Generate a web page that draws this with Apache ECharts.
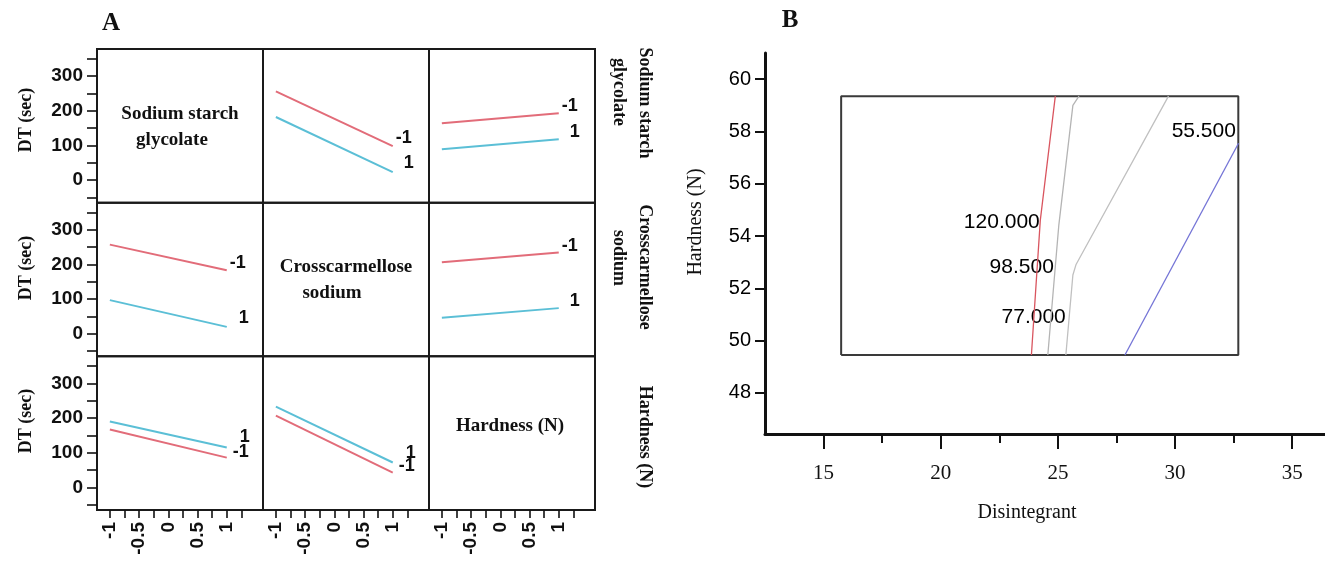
<!DOCTYPE html>
<html>
<head>
<meta charset="utf-8">
<script src="https://cdn.jsdelivr.net/npm/echarts@6/dist/echarts.min.js"></script>
<style>html,body{margin:0;padding:0;background:#fff}#c{width:1325px;height:562px}</style>
</head>
<body>
<div id="c"></div>
<script>
// ---------- DATA ----------
// Panel A: interaction plot matrix (DT in sec). Row = trace factor, column = x factor.
const factorNames = ['Sodium starch glycolate', 'Crosscarmellose sodium', 'Hardness (N)'];
const xLevels = [-1, 1];
const levelLabels = ['-1', '1'];
// [value at x=-1, value at x=1] for trace level -1 (low) and +1 (high)
const r0c1_low = [256, 98],  r0c1_high = [182, 23];
const r0c2_low = [164, 193], r0c2_high = [89, 118];
const r1c0_low = [257, 183], r1c0_high = [97, 20];
const r1c2_low = [206, 234], r1c2_high = [46, 74];
const r2c0_low = [167, 86],  r2c0_high = [190, 115];
const r2c1_low = [207, 43],  r2c1_high = [233, 72];
const yTickLabelsA = [0, 100, 200, 300];
const yTicksA = [-50, 0, 50, 100, 150, 200, 250, 300, 350];
const xTickLabelsA = [-1, -0.5, 0, 0.5, 1];
const xTicksA = [-1, -0.75, -0.5, -0.25, 0, 0.25, 0.5, 0.75, 1, 1.25];

// Panel B: contour plot (Disintegrant vs Hardness)
const contourLevels = ['120.000', '98.500', '77.000', '55.500'];
const c120_x = [24.89, 24.25, 23.87];        const c120_y = [59.35, 54.61, 49.45];
const c985_x = [25.90, 25.64, 25.04, 24.57]; const c985_y = [59.35, 59.00, 54.42, 49.45];
const c770_x = [29.72, 25.77, 25.64, 25.34]; const c770_y = [59.35, 52.90, 52.51, 49.45];
const c555_x = [32.71, 27.86];               const c555_y = [57.55, 49.45];
const contourLabelX = [24.27, 24.87, 25.38, 32.64];
const contourLabelY = [54.54, 52.82, 50.90, 58.01];
const frameX = [15.75, 32.70];
const frameY = [49.45, 59.35];
const xTickLabelsB = [15, 20, 25, 30, 35];
const xMinorTicksB = [17.5, 22.5, 27.5, 32.5];
const yTickLabelsB = [48, 50, 52, 54, 56, 58, 60];

// ---------- STYLE / LAYOUT ----------
const RED = '#e26c79', BLUE = '#5bbfd6';
const AX0 = 97, AY0 = 49, CW = 166, RH = 153.67;
const SERIF = '"Liberation Serif","Times New Roman",serif';
const SANS = 'Arial,"Liberation Sans",sans-serif';

const cells = {
  '0,1': [r0c1_low, r0c1_high], '0,2': [r0c2_low, r0c2_high],
  '1,0': [r1c0_low, r1c0_high], '1,2': [r1c2_low, r1c2_high],
  '2,0': [r2c0_low, r2c0_high], '2,1': [r2c1_low, r2c1_high]
};
// end label offsets [low, high]
const labelOffsets = {
  '0,1': [[0, -8], [8, -9]], '0,2': [[0, -7], [8, -7]],
  '1,0': [[0, -7], [9, -9]], '1,2': [[0, -7], [8, -7]],
  '2,0': [[3, -6], [10, -11]], '2,1': [[3, -7], [10, -9]]
};

const grid = [], xAxis = [], yAxis = [], series = [];
for (let r = 0; r < 3; r++) {
  for (let c = 0; c < 3; c++) {
    const i = r * 3 + c;
    grid.push({left: AX0 + c * CW, top: AY0 + r * RH, width: CW, height: RH,
      show: true, borderColor: '#1a1a1a', borderWidth: 2, backgroundColor: 'transparent'});
    xAxis.push({gridIndex: i, type: 'value', min: -1.22, max: 1.62, show: r === 2, position: 'bottom',
      axisLine: {show: false, onZero: false}, splitLine: {show: false},
      axisTick: {show: true, inside: false, length: 8, customValues: xTicksA, lineStyle: {color: '#111', width: 1.6}},
      axisLabel: {show: true, customValues: xTickLabelsA, rotate: 90, margin: 12, color: '#111',
        fontSize: 19, fontWeight: 'bold', fontFamily: SANS}});
    yAxis.push({gridIndex: i, type: 'value', min: -65, max: 378, show: c === 0, position: 'left',
      axisLine: {show: false, onZero: false}, splitLine: {show: false},
      axisTick: {show: true, inside: false, length: 10, customValues: yTicksA, lineStyle: {color: '#111', width: 1.6}},
      axisLabel: {show: true, customValues: yTickLabelsA, margin: 14, color: '#111',
        fontSize: 19, fontWeight: 'bold', fontFamily: SANS}});
    const key = r + ',' + c;
    if (cells[key]) {
      const vals = cells[key];
      [0, 1].forEach(k => {
        series.push({type: 'line', xAxisIndex: i, yAxisIndex: i, silent: true, animation: false,
          symbol: 'none', showSymbol: false,
          data: xLevels.map((x, j) => [x, vals[k][j]]),
          lineStyle: {color: k === 0 ? RED : BLUE, width: 2},
          endLabel: {show: true, formatter: levelLabels[k], distance: 3, offset: labelOffsets[key][k],
            color: '#111', fontSize: 18, fontWeight: 'bold', fontFamily: SANS}
        });
      });
    }
  }
}

// Panel B grid
const BG = 9;
grid.push({left: 765, top: 53, width: 560, height: 381, show: false});
xAxis.push({gridIndex: BG, type: 'value', min: 12.5, max: 36.4, position: 'bottom',
  axisLine: {show: true, onZero: false, lineStyle: {color: '#111', width: 3}}, splitLine: {show: false},
  axisTick: {show: true, inside: false, length: 15, customValues: xTickLabelsB, lineStyle: {color: '#111', width: 2}},
  axisLabel: {customValues: xTickLabelsB, margin: 29, color: '#111', fontSize: 21, fontFamily: SERIF}});
xAxis.push({gridIndex: BG, type: 'value', min: 12.5, max: 36.4, position: 'bottom',
  axisLine: {show: false, onZero: false}, splitLine: {show: false},
  axisTick: {show: true, inside: false, length: 9, customValues: xMinorTicksB, lineStyle: {color: '#111', width: 2}},
  axisLabel: {show: false}});
yAxis.push({gridIndex: BG, type: 'value', min: 46.43, max: 61.0, position: 'left',
  axisLine: {show: true, onZero: false, lineStyle: {color: '#111', width: 3}}, splitLine: {show: false},
  axisTick: {show: true, inside: false, length: 10, customValues: yTickLabelsB, lineStyle: {color: '#111', width: 2}},
  axisLabel: {customValues: yTickLabelsB, margin: 14, color: '#000', fontSize: 20, fontFamily: SANS}});

const zip = (xs, ys) => xs.map((x, i) => [x, ys[i]]);
const frameData = [[frameX[0], frameY[0]], [frameX[1], frameY[0]], [frameX[1], frameY[1]], [frameX[0], frameY[1]], [frameX[0], frameY[0]]];
series.push({type: 'line', xAxisIndex: 9, yAxisIndex: BG, symbol: 'none', silent: true, animation: false,
  data: frameData, lineStyle: {color: '#3a3a3a', width: 2}});
const contours = [[c120_x, c120_y, '#d9555f'], [c985_x, c985_y, '#b4b4b4'], [c770_x, c770_y, '#c0c0c0'], [c555_x, c555_y, '#7474d6']];
contours.forEach(([xs, ys, col]) => {
  series.push({type: 'line', xAxisIndex: 9, yAxisIndex: BG, symbol: 'none', silent: true, animation: false,
    data: zip(xs, ys), lineStyle: {color: col, width: 1.3}});
});
series.push({type: 'scatter', xAxisIndex: 9, yAxisIndex: BG, symbolSize: 0, silent: true, animation: false,
  itemStyle: {opacity: 1},
  data: contourLevels.map((t, i) => ({value: [contourLabelX[i], contourLabelY[i]], name: t})),
  label: {show: true, position: 'left', distance: 1, formatter: p => p.name, color: '#000', opacity: 1,
    fontSize: 21, fontFamily: SANS}});

// Text graphics
const txt = (x, y, text, opt) => Object.assign({type: 'text', x: x, y: y, silent: true,
  style: Object.assign({text: text, fill: '#111', align: 'center', verticalAlign: 'middle'}, opt.style || {})},
  opt.rotation !== undefined ? {rotation: opt.rotation} : {});
const boldSerif = s => ({font: 'bold ' + s + 'px ' + SERIF});
const graphic = [
  txt(111, 24, 'A', {style: boldSerif(25)}),
  txt(790, 21, 'B', {style: boldSerif(25)}),
  txt(26, 120, 'DT (sec)', {rotation: Math.PI / 2, style: boldSerif(18)}),
  txt(26, 268, 'DT (sec)', {rotation: Math.PI / 2, style: boldSerif(18)}),
  txt(26, 421, 'DT (sec)', {rotation: Math.PI / 2, style: boldSerif(18)}),
  txt(180, 114, 'Sodium starch', {style: boldSerif(19)}),
  txt(172, 140, 'glycolate', {style: boldSerif(19)}),
  txt(346, 267, 'Crosscarmellose', {style: boldSerif(19)}),
  txt(332, 293, 'sodium', {style: boldSerif(19)}),
  txt(510, 426, 'Hardness (N)', {style: boldSerif(19)}),
  txt(645, 103, 'Sodium starch', {rotation: -Math.PI / 2, style: boldSerif(18)}),
  txt(619, 92, 'glycolate', {rotation: -Math.PI / 2, style: boldSerif(18)}),
  txt(645, 267, 'Crosscarmellose', {rotation: -Math.PI / 2, style: boldSerif(18)}),
  txt(619, 258, 'sodium', {rotation: -Math.PI / 2, style: boldSerif(18)}),
  txt(645, 437, 'Hardness (N)', {rotation: -Math.PI / 2, style: boldSerif(18)}),
  txt(696, 222, 'Hardness (N)', {rotation: Math.PI / 2, style: {font: '20px ' + SERIF}}),
  txt(1027, 513, 'Disintegrant', {style: {font: '20px ' + SERIF}})
];

const chart = echarts.init(document.getElementById('c'), null, {renderer: 'canvas'});
chart.setOption({animation: false, backgroundColor: '#fff', grid, xAxis, yAxis, series, graphic});
</script>
</body>
</html>
